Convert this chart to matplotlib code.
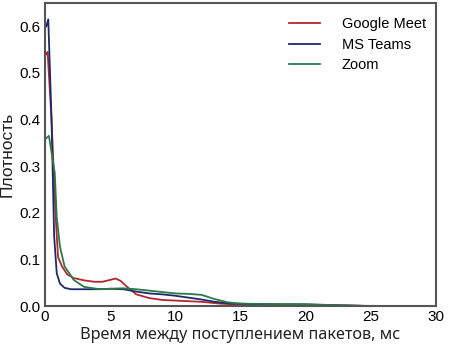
import numpy as np
import matplotlib.pyplot as plt

# данные (интервал между пакетами, мс -> плотность)
x_meet = [0.1, 0.2, 0.5, 0.8, 1.0, 1.3, 1.7, 2.2, 3.0, 3.8, 4.4, 5.0, 5.4, 5.8, 6.3, 7.0, 8.0, 9.0, 10.5, 12.0, 13.5, 15.0, 17.0, 20.0, 22.0, 25.0, 30.0]
y_meet = [0.54, 0.545, 0.40, 0.20, 0.105, 0.085, 0.068, 0.060, 0.055, 0.052, 0.052, 0.056, 0.059, 0.054, 0.041, 0.025, 0.017, 0.013, 0.011, 0.009, 0.005, 0.003, 0.003, 0.003, 0.001, 0.0, 0.0]

x_teams = [0.1, 0.25, 0.5, 0.7, 0.9, 1.15, 1.5, 2.0, 3.0, 4.0, 5.0, 6.0, 7.0, 8.0, 9.0, 10.0, 11.0, 12.0, 13.0, 14.0, 16.0, 20.0, 22.0, 25.0, 30.0]
y_teams = [0.60, 0.615, 0.40, 0.15, 0.07, 0.048, 0.039, 0.036, 0.036, 0.036, 0.037, 0.036, 0.031, 0.027, 0.025, 0.022, 0.018, 0.014, 0.009, 0.006, 0.004, 0.003, 0.002, 0.0, 0.0]

x_zoom = [0.1, 0.3, 0.5, 0.75, 0.9, 1.15, 1.5, 2.2, 3.0, 4.2, 5.0, 6.0, 7.0, 8.0, 9.0, 10.0, 11.0, 12.0, 13.0, 14.0, 15.0, 18.0, 20.0, 22.0, 25.0, 30.0]
y_zoom = [0.36, 0.365, 0.33, 0.285, 0.19, 0.127, 0.085, 0.056, 0.041, 0.036, 0.037, 0.038, 0.036, 0.033, 0.030, 0.027, 0.026, 0.024, 0.015, 0.008, 0.005, 0.004, 0.004, 0.002, 0.0, 0.0]

names = ['Google Meet', 'MS Teams', 'Zoom']
colors = ['#b5272d', '#1c2a6b', '#2a7a48']

fig = plt.figure(figsize=(4.51, 3.56), dpi=100)
ax = fig.add_axes([0.0998, 0.1404, 0.8672, 0.8512])

ax.plot(x_meet, y_meet, color=colors[0], lw=1.3, label=names[0])
ax.plot(x_teams, y_teams, color=colors[1], lw=1.3, label=names[1])
ax.plot(x_zoom, y_zoom, color=colors[2], lw=1.3, label=names[2])

ax.set_xlim(0, 30)
ax.set_ylim(0, 0.65)
ax.set_xticks([0, 5, 10, 15, 20, 25, 30])
ax.set_yticks([0.0, 0.1, 0.2, 0.3, 0.4, 0.5, 0.6])
ax.set_yticklabels(['0.0', '0.1', '0.2', '0.3', '0.4', '0.5', '0.6'])
ax.tick_params(length=0, pad=3, labelsize=11)
for lab in ax.get_xticklabels() + ax.get_yticklabels():
    lab.set_family('Liberation Sans')
for s in ax.spines.values():
    s.set_color('#555555')
    s.set_linewidth(1.5)

ax.set_xlabel('Время между поступлением пакетов, мс', fontsize=11.7, family='Noto Sans',
              color='#222222', labelpad=2)
ax.set_ylabel('Плотность', fontsize=12.5, family='Liberation Sans', color='#222222')

# легенда без рамки в правом верхнем углу
leg = ax.legend(loc='upper right', bbox_to_anchor=(1.0, 0.987), frameon=False,
                handlelength=2.1, handletextpad=1.5, borderaxespad=0.3, labelspacing=0.45,
                prop={'family': 'Liberation Sans', 'size': 10.5})

fig.savefig('out.png', dpi=100)
